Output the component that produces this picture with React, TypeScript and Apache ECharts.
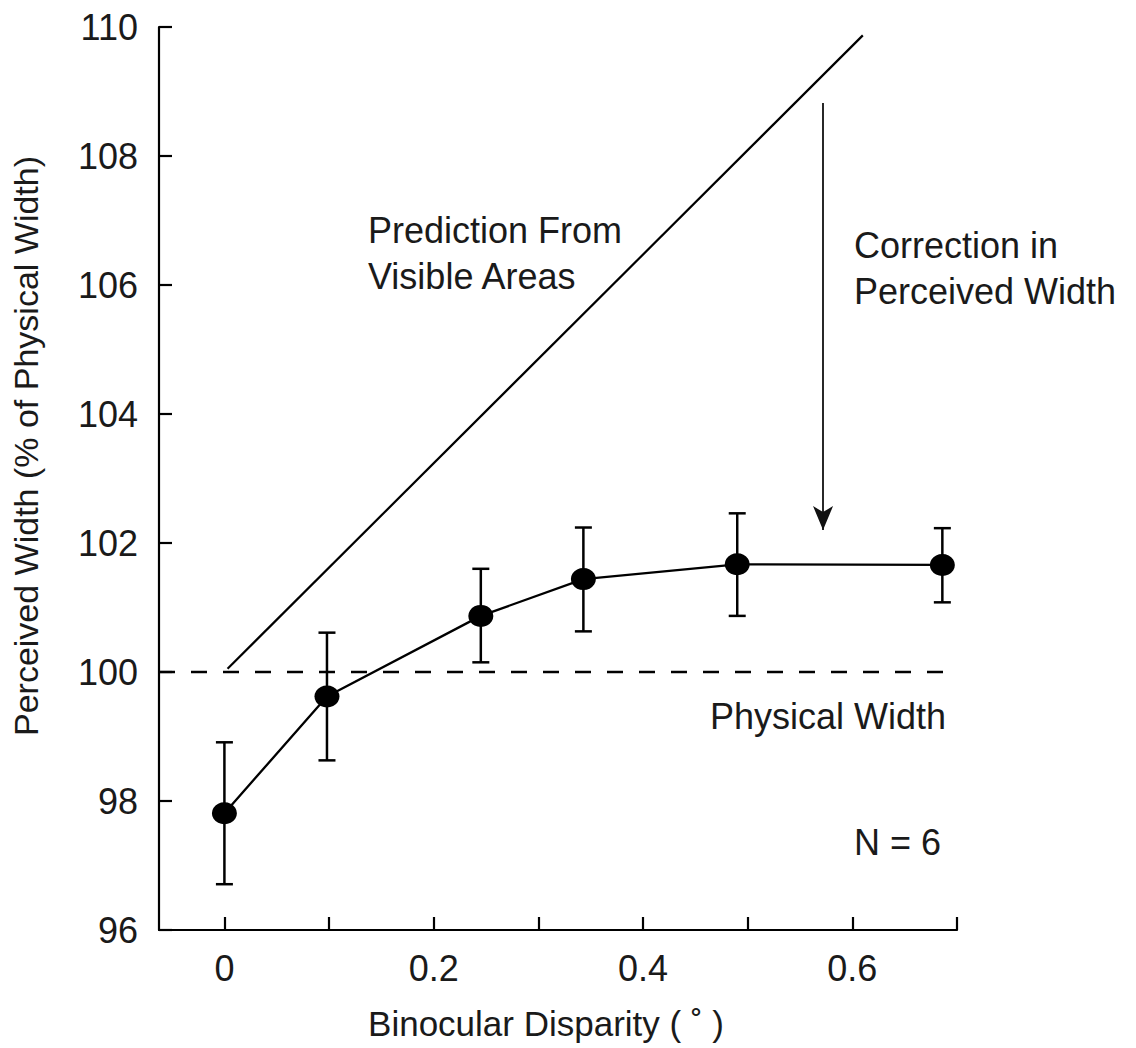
import React, { useEffect, useRef } from "react";
import * as echarts from "echarts";

// ---- data ----
const disparity = [0, 0.098, 0.245, 0.343, 0.49, 0.686];
const perceived = [97.81, 99.62, 100.87, 101.44, 101.67, 101.66];
const errUpper = [98.91, 100.61, 101.6, 102.24, 102.46, 102.23];
const errLower = [96.71, 98.63, 100.15, 100.63, 100.87, 101.08];

const predictionLine = [
  [0.003, 100.05],
  [0.61, 109.87],
];
const physicalLine = [
  [-0.0625, 100],
  [0.687, 100],
];
const correctionArrow = { x: 0.572, from: 108.82, to: 102.2 };

const xTicks = [0, 0.1, 0.2, 0.3, 0.4, 0.5, 0.6, 0.7];
const xLabels = [0, 0.2, 0.4, 0.6];
const xRange = [-0.0625, 0.7];
const yRange = [96, 110];
const yInterval = 2;

const FONT = "'Liberation Sans', Arial, Helvetica, sans-serif";
const TXT = "#1a1a1a";

export default function App() {
  const ref = useRef<HTMLDivElement>(null);

  useEffect(() => {
    document.body.style.margin = "0";
    if (!ref.current) return;
    const chart = echarts.init(ref.current, undefined, { renderer: "svg" });

    const errData = disparity.map((x, i) => [x, errLower[i], errUpper[i]]);
    const meanData = disparity.map((x, i) => [x, perceived[i]]);

    const annot = (text: string, x: number, y: number, align: string = "left") => ({
      type: "text",
      x,
      y,
      style: {
        text,
        fill: TXT,
        font: `36px ${FONT}`,
        align,
        verticalAlign: "middle",
      },
    });

    chart.setOption({
      animation: false,
      backgroundColor: "#ffffff",
      grid: {
        left: 159,
        right: 179,
        top: 27,
        bottom: 118,
        outerBoundsMode: "none",
      },
      xAxis: {
        type: "value",
        min: xRange[0],
        max: xRange[1],
        splitLine: { show: false },
        axisLine: { show: true, onZero: false, lineStyle: { color: "#000", width: 2.2 } },
        axisTick: {
          show: true,
          inside: true,
          length: 13,
          customValues: xTicks,
          lineStyle: { color: "#000", width: 2.2 },
        },
        axisLabel: {
          customValues: xLabels,
          margin: 20,
          color: TXT,
          fontSize: 36,
          fontFamily: FONT,
          formatter: (v: number) => String(Math.round(v * 10) / 10),
        },
      },
      yAxis: {
        type: "value",
        min: yRange[0],
        max: yRange[1],
        interval: yInterval,
        splitLine: { show: false },
        axisLine: { show: true, onZero: false, lineStyle: { color: "#000", width: 2.2 } },
        axisTick: { show: true, inside: true, length: 13, lineStyle: { color: "#000", width: 2.2 } },
        axisLabel: {
          margin: 21,
          color: TXT,
          fontSize: 36,
          fontFamily: FONT,
        },
      },
      graphic: [
        {
          type: "text",
          x: 25.5,
          y: 446,
          rotation: Math.PI / 2,
          style: {
            text: "Perceived Width (% of Physical Width)",
            fill: TXT,
            font: `34px ${FONT}`,
            align: "center",
            verticalAlign: "middle",
          },
        },
        {
          type: "text",
          x: 546,
          y: 1023.5,
          style: {
            text: "Binocular Disparity ( ˚ )",
            fill: TXT,
            font: `35px ${FONT}`,
            align: "center",
            verticalAlign: "middle",
          },
        },
        annot("Prediction From", 368, 230.5),
        annot("Visible Areas", 368, 276.5),
        annot("Correction in", 854, 245),
        annot("Perceived Width", 854, 291.5),
        annot("Physical Width", 946, 716, "right"),
        annot("N = 6", 854, 842.5),
      ],
      series: [
        {
          type: "line",
          data: predictionLine,
          symbol: "none",
          lineStyle: { color: "#000", width: 2.2 },
          z: 3,
        },
        {
          type: "line",
          data: physicalLine,
          symbol: "none",
          lineStyle: { color: "#000", width: 2.4, type: [16, 16] },
          z: 3,
          markLine: {
            silent: true,
            symbol: ["none", "arrow"],
            symbolSize: [15, 24],
            label: { show: false },
            lineStyle: { color: "#111", width: 1.8, type: "solid" },
            data: [
              [
                { coord: [correctionArrow.x, correctionArrow.from] },
                { coord: [correctionArrow.x, correctionArrow.to] },
              ],
            ],
          },
        },
        {
          type: "custom",
          data: errData,
          z: 4,
          renderItem: (params: any, api: any) => {
            const x = api.value(0);
            const lo = api.coord([x, api.value(1)]);
            const hi = api.coord([x, api.value(2)]);
            const hw = 8.5;
            const st = { stroke: "#000", lineWidth: 2.5 };
            return {
              type: "group",
              children: [
                { type: "line", shape: { x1: hi[0], y1: hi[1], x2: lo[0], y2: lo[1] }, style: st },
                { type: "line", shape: { x1: hi[0] - hw, y1: hi[1], x2: hi[0] + hw, y2: hi[1] }, style: st },
                { type: "line", shape: { x1: lo[0] - hw, y1: lo[1], x2: lo[0] + hw, y2: lo[1] }, style: st },
              ],
            };
          },
        },
        {
          type: "line",
          data: meanData,
          symbol: "circle",
          symbolSize: [25, 22],
          showSymbol: true,
          itemStyle: { color: "#000", borderWidth: 0 },
          lineStyle: { color: "#000", width: 2.3 },
          z: 5,
        },
      ],
    });

    return () => chart.dispose();
  }, []);

  return (
    <div
      ref={ref}
      style={{ position: "absolute", left: 0, top: 0, width: 1136, height: 1048, background: "#fff" }}
    />
  );
}
